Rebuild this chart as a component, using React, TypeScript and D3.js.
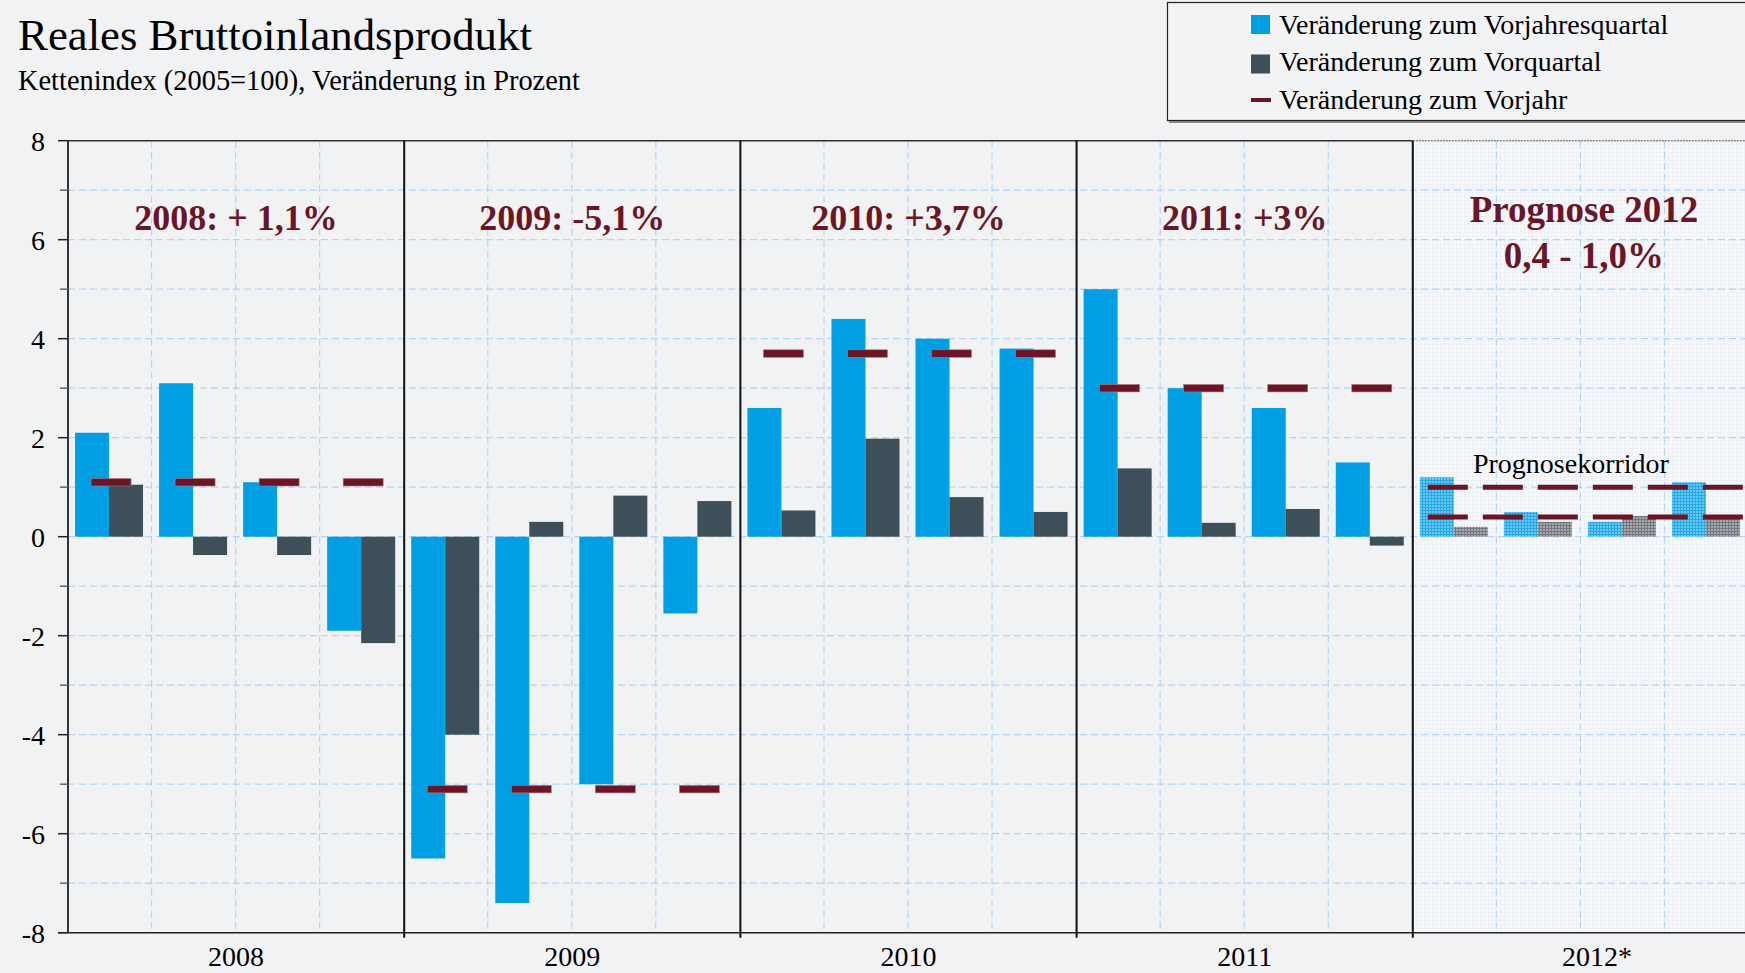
import React from 'react';
import * as d3 from 'd3';

const W = 1745;
const H = 973;

const years = ['2008', '2009', '2010', '2011', '2012*'];
// Veränderung zum Vorjahresquartal (2008 Q1 .. 2011 Q4)
const yoyQuarterly = [2.1, 3.1, 1.1, -1.9, -6.5, -7.4, -5.0, -1.55, 2.6, 4.4, 4.0, 3.8, 5.0, 3.0, 2.6, 1.5];
// Veränderung zum Vorquartal
const qoqQuarterly = [1.05, -0.37, -0.37, -2.15, -4.0, 0.3, 0.83, 0.72, 0.53, 1.98, 0.8, 0.5, 1.38, 0.28, 0.56, -0.18];
// Veränderung zum Vorjahr
const yoyAnnual = [1.1, -5.1, 3.7, 3.0];
// Prognose 2012
const forecastYoy = [1.2, 0.5, 0.3, 1.1];
const forecastQoq = [0.2, 0.3, 0.42, 0.4];
const corridor = [0.4, 1.0];

const yearNotes = ['2008: + 1,1%', '2009: -5,1%', '2010: +3,7%', '2011: +3%'];
const forecastNote = ['Prognose 2012', '0,4 - 1,0%'];
const corridorLabel = 'Prognosekorridor';
const yTicks = [-8, -6, -4, -2, 0, 2, 4, 6, 8];
const yMinor = [-7, -5, -3, -1, 1, 3, 5, 7];
const gridValues = d3.range(-7, 8);
const legendLabels = [
  'Veränderung zum Vorjahresquartal',
  'Veränderung zum Vorquartal',
  'Veränderung zum Vorjahr',
];
const title = 'Reales Bruttoinlandsprodukt';
const subtitle = 'Kettenindex (2005=100), Veränderung in Prozent';

const BLUE = '#009fe3';
const DARK = '#3d4f59';
const RED = '#6b1626';
const BG = '#f1f2f4';
const GRID = '#b3d4f5';
const FONT = '"Liberation Serif", "Times New Roman", Times, serif';

export default function App() {
  const left = 68;
  const top = 140.7;
  const bottom = 932.7;
  const step = 84.05;
  const nQ = years.length * 4;
  const x = d3.scaleLinear().domain([0, nQ]).range([left, left + step * nQ]);
  const y = d3.scaleLinear().domain([-8, 8]).range([bottom, top]);
  const barW = 34;
  const center = (i: number) => x(i + 0.5) - 1;
  const yearCenter = (k: number) => x(k * 4 + 2);
  const fx = x(16);

  const barRect = (i: number, v: number, which: 0 | 1, fill: string, key: string) => {
    const cx = center(i);
    const x0 = which === 0 ? cx - barW : cx;
    return (
      <rect key={key} x={x0} width={barW} y={Math.min(y(v), y(0))} height={Math.abs(y(v) - y(0))} fill={fill} />
    );
  };

  return (
    <svg width={W} height={H} style={{ position: 'absolute', left: 0, top: 0, fontFamily: FONT }}>
      <defs>
        <pattern id="fineGrid" width={4} height={4} patternUnits="userSpaceOnUse">
          <rect width={4} height={4} fill="#f7f8fa" />
          <path d="M0 0.5H4M0.5 0V4" stroke="#edf1f6" strokeWidth={1} />
        </pattern>
        <pattern id="blueGrid" width={3} height={3} patternUnits="userSpaceOnUse">
          <rect width={3} height={3} fill="#6cc7f0" />
          <path d="M0 0.5H3M0.5 0V3" stroke="#22a9e6" strokeWidth={1} />
        </pattern>
        <pattern id="darkGrid" width={3} height={3} patternUnits="userSpaceOnUse">
          <rect width={3} height={3} fill="#a6aaae" />
          <path d="M0 0.5H3M0.5 0V3" stroke="#72787d" strokeWidth={1} />
        </pattern>
      </defs>
      <rect width={W} height={H} fill={BG} />

      {/* title */}
      <text x={18} y={50} fontSize={44.8} fill="#000">{title}</text>
      <text x={18} y={90} fontSize={28.4} fill="#000">{subtitle}</text>

      {/* forecast area */}
      <rect x={fx} y={top} width={W - fx} height={bottom - top} fill="url(#fineGrid)" />

      {/* grid */}
      {gridValues.map((v) => (
        <line key={'gh' + v} x1={left} x2={W} y1={y(v)} y2={y(v)} stroke={GRID} strokeWidth={1.2} strokeDasharray="7,4" />
      ))}
      {d3.range(1, nQ).map((i) => (
        <line key={'gv' + i} x1={x(i) - 0.5} x2={x(i) - 0.5} y1={top} y2={bottom} stroke={GRID} strokeWidth={1.2} strokeDasharray="7,4" />
      ))}

      {/* bars */}
      {yoyQuarterly.map((v, i) => barRect(i, v, 0, BLUE, 'b' + i))}
      {qoqQuarterly.map((v, i) => barRect(i, v, 1, DARK, 'd' + i))}
      {forecastYoy.map((v, i) => barRect(16 + i, v, 0, 'url(#blueGrid)', 'fb' + i))}
      {forecastQoq.map((v, i) => barRect(16 + i, v, 1, 'url(#darkGrid)', 'fd' + i))}

      {/* annual change markers */}
      {yoyAnnual.map((v, k) =>
        d3.range(4).map((q) => (
          <rect
            key={'a' + k + q}
            x={center(k * 4 + q) + 2 - 20}
            y={y(v) - 3.75}
            width={40}
            height={7.5}
            fill={RED}
            stroke="#b07a84"
            strokeWidth={0.6}
          />
        ))
      )}

      {/* corridor */}
      {corridor.map((v) => (
        <line key={'c' + v} x1={center(16) - 26} x2={W} y1={y(v)} y2={y(v)} stroke={RED} strokeWidth={5} strokeDasharray="40,15" />
      ))}
      <text x={yearCenter(4) - 10} y={y(1) - 14} fontSize={28} textAnchor="middle" fill="#000">{corridorLabel}</text>

      {/* axes */}
      <line x1={left} x2={fx} y1={top} y2={top} stroke="#333" strokeWidth={1.5} />
      <line x1={fx} x2={W} y1={top} y2={top} stroke="#888" strokeWidth={1.5} strokeDasharray="2,1" />
      <line x1={left - 10} x2={W} y1={bottom} y2={bottom} stroke="#222" strokeWidth={1.5} />
      <line x1={left} x2={left} y1={top} y2={bottom} stroke="#333" strokeWidth={2} />
      {yTicks.map((v) => (
        <g key={'t' + v}>
          <line x1={left - 10} x2={left} y1={y(v)} y2={y(v)} stroke="#222" strokeWidth={1.5} />
          <text x={45} y={y(v)} dy="0.36em" fontSize={28} textAnchor="end" fill="#000">{v}</text>
        </g>
      ))}
      {yMinor.map((v) => (
        <line key={'m' + v} x1={left - 8} x2={left} y1={y(v)} y2={y(v)} stroke="#666" strokeWidth={1.5} />
      ))}

      {/* year separators */}
      {[1, 2, 3, 4].map((k) => (
        <line key={'s' + k} x1={x(k * 4)} x2={x(k * 4)} y1={top} y2={bottom + 5} stroke="#111" strokeWidth={2} />
      ))}

      {/* year labels */}
      {years.map((yr, k) => (
        <text
          key={'y' + yr}
          x={k === 4 ? yearCenter(k) - 19 : yearCenter(k)}
          y={966}
          fontSize={28}
          textAnchor={k === 4 ? 'start' : 'middle'}
          fill="#000"
        >
          {yr}
        </text>
      ))}

      {/* annotations */}
      {yearNotes.map((t, k) => (
        <text key={'n' + k} x={yearCenter(k)} y={230} fontSize={36} fontWeight="bold" textAnchor="middle" fill={RED}>{t}</text>
      ))}
      {forecastNote.map((t, i) => (
        <text key={'f' + i} x={yearCenter(4) + 3} y={221.7 + i * 46.6} fontSize={37} fontWeight="bold" textAnchor="middle" fill={RED}>{t}</text>
      ))}

      {/* legend */}
      <rect x={1169} y={5} width={W} height={118} fill="#8a8a8a" />
      <rect x={1167.5} y={2.5} width={W} height={118} fill="#f2f3f5" stroke="#222" strokeWidth={1.2} />
      <rect x={1251} y={15} width={19} height={19} fill={BLUE} />
      <rect x={1251} y={54.5} width={19} height={19} fill={DARK} />
      <rect x={1251} y={98} width={20} height={4} fill={RED} />
      {legendLabels.map((t, i) => (
        <text key={'l' + i} x={1279} y={33.5 + i * 37.5} fontSize={28} fill="#000">{t}</text>
      ))}
    </svg>
  );
}
